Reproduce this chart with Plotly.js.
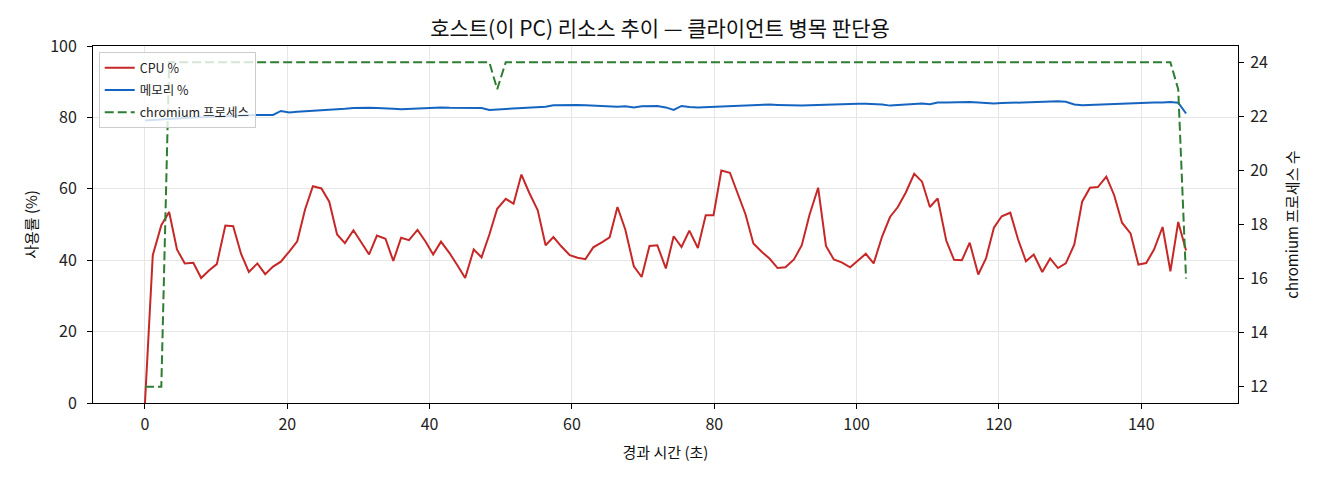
<!DOCTYPE html>
<html>
<head>
<meta charset="utf-8">
<script src="https://cdn.plot.ly/plotly-3.0.1.min.js"></script>
<style>
  html, body { margin: 0; padding: 0; background: #fff; }
  #plot { width: 1320px; height: 480px; }
</style>
</head>
<body>
<div id="plot"></div>
<script>
// elapsed seconds of each sample
var elapsed = [
  0, 1.1, 2.3, 3.4, 4.5, 5.6, 6.8, 7.9, 9.0, 10.1,
  11.3, 12.4, 13.5, 14.6, 15.8, 16.9, 18.0, 19.1, 20.3, 21.4,
  22.5, 23.6, 24.8, 25.9, 27.0, 28.1, 29.3, 30.4, 31.5, 32.6,
  33.8, 34.9, 36.0, 37.1, 38.3, 39.4, 40.5, 41.6, 42.8, 43.9,
  45.0, 46.2, 47.3, 48.4, 49.5, 50.7, 51.8, 52.9, 54.0, 55.2,
  56.3, 57.4, 58.5, 59.7, 60.8, 61.9, 63.0, 64.2, 65.3, 66.4,
  67.5, 68.7, 69.8, 70.9, 72.0, 73.2, 74.3, 75.4, 76.5, 77.7,
  78.8, 79.9, 81.0, 82.2, 83.3, 84.4, 85.5, 86.7, 87.8, 88.9,
  90.0, 91.2, 92.3, 93.4, 94.6, 95.7, 96.8, 97.9, 99.1, 100.2,
  101.3, 102.4, 103.6, 104.7, 105.8, 106.9, 108.1, 109.2, 110.3, 111.4,
  112.6, 113.7, 114.8, 115.9, 117.1, 118.2, 119.3, 120.4, 121.6, 122.7,
  123.8, 124.9, 126.1, 127.2, 128.3, 129.4, 130.6, 131.7, 132.8, 133.9,
  135.1, 136.2, 137.3, 138.5, 139.6, 140.7, 141.8, 143.0, 144.1, 145.2,
  146.3
];

var cpuPct = [
  0, 41.4, 49.8, 53.5, 43.0, 39.1, 39.3, 35.0, 37.1, 38.9,
  49.7, 49.5, 41.8, 36.7, 39.1, 36.1, 38.2, 39.6, 42.5, 45.3,
  54.2, 60.7, 60.1, 56.4, 47.2, 44.8, 48.4, 45.0, 41.6, 46.9,
  46.0, 39.8, 46.3, 45.6, 48.5, 45.3, 41.6, 45.2, 42.0, 38.6,
  35.0, 43.0, 40.8, 47.2, 54.4, 57.2, 55.8, 64.0, 58.9, 54.0,
  44.2, 46.5, 43.9, 41.4, 40.7, 40.3, 43.6, 45.0, 46.4, 54.9,
  48.6, 38.3, 35.3, 44.0, 44.2, 37.7, 46.7, 43.7, 48.3, 43.4,
  52.6, 52.6, 65.1, 64.5, 58.9, 52.8, 44.7, 42.3, 40.4, 37.8,
  38.0, 40.2, 44.2, 52.8, 60.3, 44.0, 40.2, 39.4, 38.0, 39.9,
  41.8, 39.1, 46.7, 52.1, 54.9, 58.9, 64.2, 62.0, 54.9, 57.3,
  45.5, 40.1, 40.0, 44.9, 36.0, 40.6, 49.1, 52.3, 53.3, 45.8,
  39.7, 41.6, 36.7, 40.5, 37.8, 39.1, 44.4, 56.4, 60.3, 60.5,
  63.4, 58.2, 50.5, 47.5, 38.8, 39.2, 43.0, 49.3, 36.9, 50.7,
  42.7
];

var memPct = [
  79.1, 79.2, 79.3, 79.5, 79.6, 79.8, 80.0, 80.1, 80.2, 80.3,
  80.4, 80.5, 80.6, 80.6, 80.7, 80.7, 80.7, 81.8, 81.4, 81.6,
  81.7, 81.9, 82.0, 82.1, 82.2, 82.4, 82.6, 82.7, 82.7, 82.6,
  82.6, 82.4, 82.3, 82.4, 82.5, 82.5, 82.6, 82.8, 82.7, 82.7,
  82.6, 82.7, 82.6, 82.1, 82.2, 82.5, 82.5, 82.6, 82.8, 82.9,
  83.0, 83.4, 83.5, 83.5, 83.5, 83.4, 83.3, 83.1, 83.0, 83.0,
  83.1, 82.8, 83.1, 83.2, 83.2, 82.8, 82.1, 83.2, 82.9, 82.8,
  82.9, 82.9, 83.0, 83.2, 83.3, 83.5, 83.6, 83.6, 83.6, 83.5,
  83.4, 83.3, 83.3, 83.4, 83.5, 83.6, 83.7, 83.8, 83.8, 83.8,
  83.8, 83.8, 83.6, 83.3, 83.4, 83.6, 83.7, 83.9, 83.7, 84.2,
  84.2, 84.3, 84.2, 84.3, 84.2, 84.0, 83.9, 84.0, 84.1, 84.2,
  84.3, 84.3, 84.4, 84.5, 84.5, 84.4, 83.6, 83.4, 83.5, 83.7,
  83.8, 83.9, 83.9, 84.1, 84.0, 84.1, 84.2, 84.2, 84.3, 84.1,
  81.1
];

var chromiumProcs = [
  12, 12, 12, 24, 24, 24, 24, 24, 24, 24,
  24, 24, 24, 24, 24, 24, 24, 24, 24, 24,
  24, 24, 24, 24, 24, 24, 24, 24, 24, 24,
  24, 24, 24, 24, 24, 24, 24, 24, 24, 24,
  24, 24, 24, 24, 23, 24, 24, 24, 24, 24,
  24, 24, 24, 24, 24, 24, 24, 24, 24, 24,
  24, 24, 24, 24, 24, 24, 24, 24, 24, 24,
  24, 24, 24, 24, 24, 24, 24, 24, 24, 24,
  24, 24, 24, 24, 24, 24, 24, 24, 24, 24,
  24, 24, 24, 24, 24, 24, 24, 24, 24, 24,
  24, 24, 24, 24, 24, 24, 24, 24, 24, 24,
  24, 24, 24, 24, 24, 24, 24, 24, 24, 24,
  24, 24, 24, 24, 24, 24, 24, 24, 24, 23,
  16
];

var xTicks = [0, 20, 40, 60, 80, 100, 120, 140];
var yTicks = [0, 20, 40, 60, 80, 100];
var y2Ticks = [12, 14, 16, 18, 20, 22, 24];

var font = '"Noto Sans CJK KR", "Noto Sans", sans-serif';

var data = [
  {
    x: elapsed, y: cpuPct, name: 'CPU %', legendgroup: 'cpu',
    type: 'scatter', mode: 'lines',
    line: {color: '#c62828', width: 2}
  },
  {
    x: elapsed, y: memPct, name: '메모리 %', legendgroup: 'mem',
    type: 'scatter', mode: 'lines',
    line: {color: '#1565c0', width: 2}
  },
  {
    x: elapsed, y: chromiumProcs, name: 'chromium 프로세스', legendgroup: 'proc',
    type: 'scatter', mode: 'lines', yaxis: 'y2',
    line: {color: '#2e7d32', width: 2, dash: '9px,4px'}
  }
];

var axisCommon = {
  showline: true,
  linecolor: '#000',
  linewidth: 1,
  ticks: 'outside',
  ticklen: 5,
  tickwidth: 1,
  tickcolor: '#000',
  tickfont: {family: font, size: 16, color: '#222'},
  zeroline: false
};

var layout = {
  width: 1320,
  height: 480,
  paper_bgcolor: '#fff',
  plot_bgcolor: '#fff',
  margin: {l: 93, r: 82, t: 46, b: 77},
  font: {family: font, color: '#000'},
  title: {
    text: '호스트(이 PC) 리소스 추이 — 클라이언트 병목 판단용',
    font: {family: font, size: 21, color: '#111'},
    x: 0.5, xanchor: 'center',
    y: 1 - 29 / 480, yanchor: 'middle', yref: 'container'
  },
  xaxis: Object.assign({}, axisCommon, {
    range: [-7.3, 153.6],
    tickvals: xTicks,
    mirror: true,
    showgrid: true,
    gridcolor: '#e6e6e6',
    ticklabelstandoff: 2,
    title: {text: '경과 시간 (초)', font: {family: font, size: 15, color: '#111'}, standoff: 13}
  }),
  yaxis: Object.assign({}, axisCommon, {
    range: [0, 100],
    tickvals: yTicks,
    showgrid: true,
    gridcolor: '#e6e6e6',
    ticklabelstandoff: 7,
    title: {text: '사용률 (%)', font: {family: font, size: 15, color: '#111'}, standoff: 8}
  }),
  yaxis2: Object.assign({}, axisCommon, {
    range: [11.4, 24.6],
    tickvals: y2Ticks,
    overlaying: 'y',
    side: 'right',
    showgrid: false,
    ticklabelstandoff: 3,
    title: {text: 'chromium 프로세스 수', font: {family: font, size: 15, color: '#111'}, standoff: 20}
  }),
  showlegend: true,
  legend: {
    x: 0.005, y: 0.983,
    xanchor: 'left', yanchor: 'top',
    bgcolor: 'rgba(255,255,255,0.8)',
    bordercolor: '#cccccc',
    borderwidth: 1,
    font: {family: font, size: 12.5, color: '#222'},
    itemwidth: 30,
    tracegroupgap: 3
  }
};

Plotly.newPlot('plot', data, layout, {staticPlot: true});
</script>
</body>
</html>
